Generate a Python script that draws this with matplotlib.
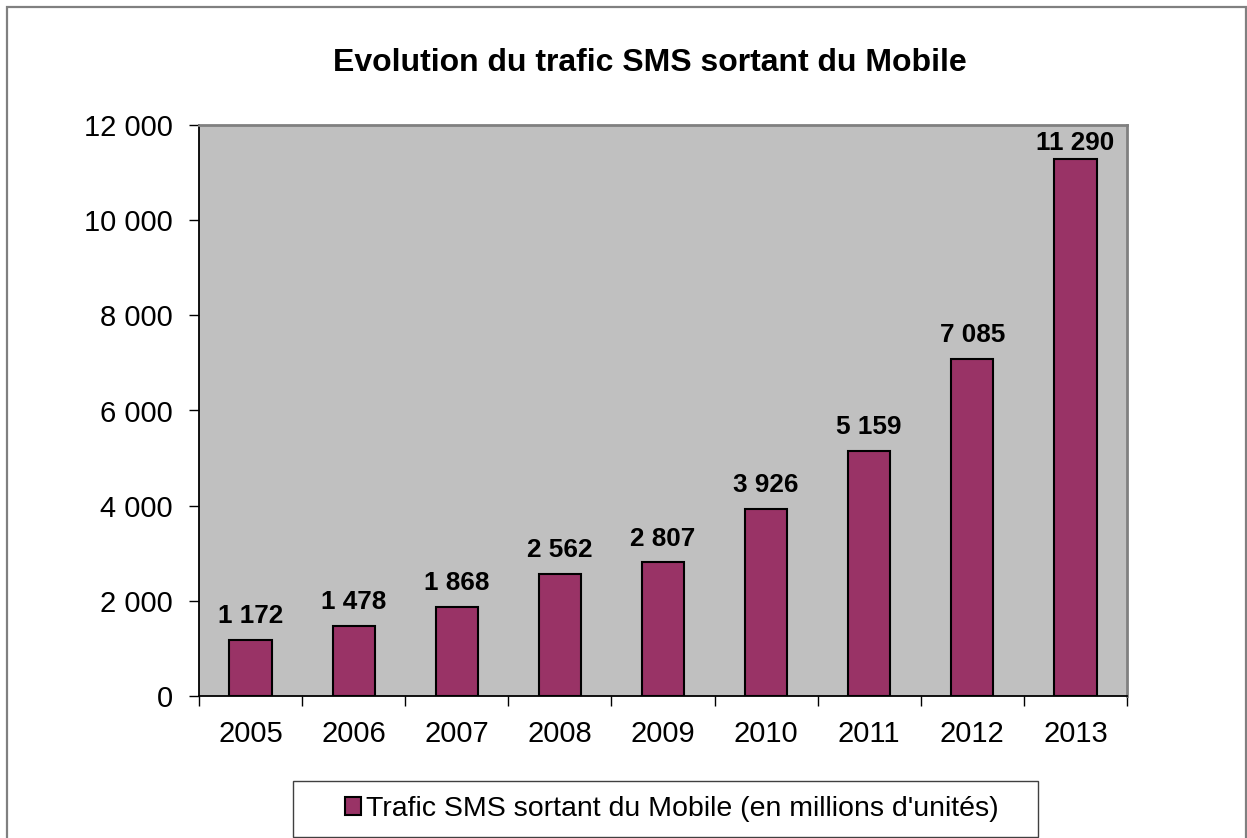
import matplotlib
matplotlib.use("Agg")
import matplotlib.pyplot as plt
from matplotlib.patches import Rectangle

plt.rcParams["font.family"] = ["Liberation Sans", "DejaVu Sans"]

years = ["2005", "2006", "2007", "2008", "2009", "2010", "2011", "2012", "2013"]
sms_traffic = [1172, 1478, 1868, 2562, 2807, 3926, 5159, 7085, 11290]
y_ticks = [0, 2000, 4000, 6000, 8000, 10000, 12000]

BAR_COLOR = "#993366"
PLOT_BG = "#C0C0C0"


def fmt_fr(value):
    return f"{value:,}".replace(",", " ")


W, H = 1247, 838
fig = plt.figure(figsize=(W / 100, H / 100), dpi=100)

# outer chart frame
fig.patches.append(Rectangle((7 / W, -0.01), (1245.5 - 7) / W, 1.01 - 7 / H,
                             transform=fig.transFigure, fill=False,
                             edgecolor="#808080", linewidth=1.6))

ax = fig.add_axes([199 / W, 1 - 696 / H, (1127 - 199) / W, (696 - 125) / H])
ax.set_facecolor(PLOT_BG)

x = list(range(len(years)))
bars = ax.bar(x, sms_traffic, width=0.41, color=BAR_COLOR, edgecolor="black",
              linewidth=1.5, label="Trafic SMS sortant du Mobile (en millions d'unités)",
              zorder=3)

# labels sit above the bars, but are kept inside the plot area
for xi, v in zip(x, sms_traffic):
    ax.text(xi, min(v + 250, 11370), fmt_fr(v), ha="center", va="bottom",
            fontsize=18.8, fontweight="bold", zorder=4)

ax.set_xlim(-0.5, len(years) - 0.5)
ax.set_ylim(0, 12000)
ax.set_yticks(y_ticks)
ax.set_yticklabels([fmt_fr(t) for t in y_ticks], fontsize=21)
ax.set_xticks(x)
ax.set_xticklabels(years, fontsize=21)
ax.tick_params(axis="x", length=0, pad=17)
ax.set_xticks([i - 0.5 for i in range(len(years) + 1)], minor=True)
ax.tick_params(axis="x", which="minor", length=7, width=1, direction="out")
ax.tick_params(axis="y", length=7, width=1, direction="out", pad=12)

ax.spines["left"].set_color("black")
ax.spines["bottom"].set_color("black")
ax.spines["left"].set_linewidth(1.3)
ax.spines["bottom"].set_linewidth(1.3)
ax.spines["top"].set_color("#808080")
ax.spines["right"].set_color("#808080")
ax.spines["top"].set_linewidth(2)
ax.spines["right"].set_linewidth(2)

fig.text(650 / W, 1 - 63 / H, "Evolution du trafic SMS sortant du Mobile",
         ha="center", va="center", fontsize=23, fontweight="bold")

# legend box drawn separately (wider padding than legend allows)
fig.patches.append(Rectangle((293 / W, 1 - 837 / H), (1038 - 293) / W, (837 - 781) / H,
                             transform=fig.transFigure, facecolor="white",
                             edgecolor="#404040", linewidth=1))
leg = fig.legend(handles=[bars], loc="center",
                 bbox_to_anchor=(672 / W, 1 - 809 / H),
                 fontsize=20.5, frameon=False,
                 handlelength=0.55, handleheight=0.55, handletextpad=0.2,
                 borderpad=0, borderaxespad=0)
leg.legend_handles[0].set_linewidth(1.5)

fig.savefig("out.png", dpi=100)
